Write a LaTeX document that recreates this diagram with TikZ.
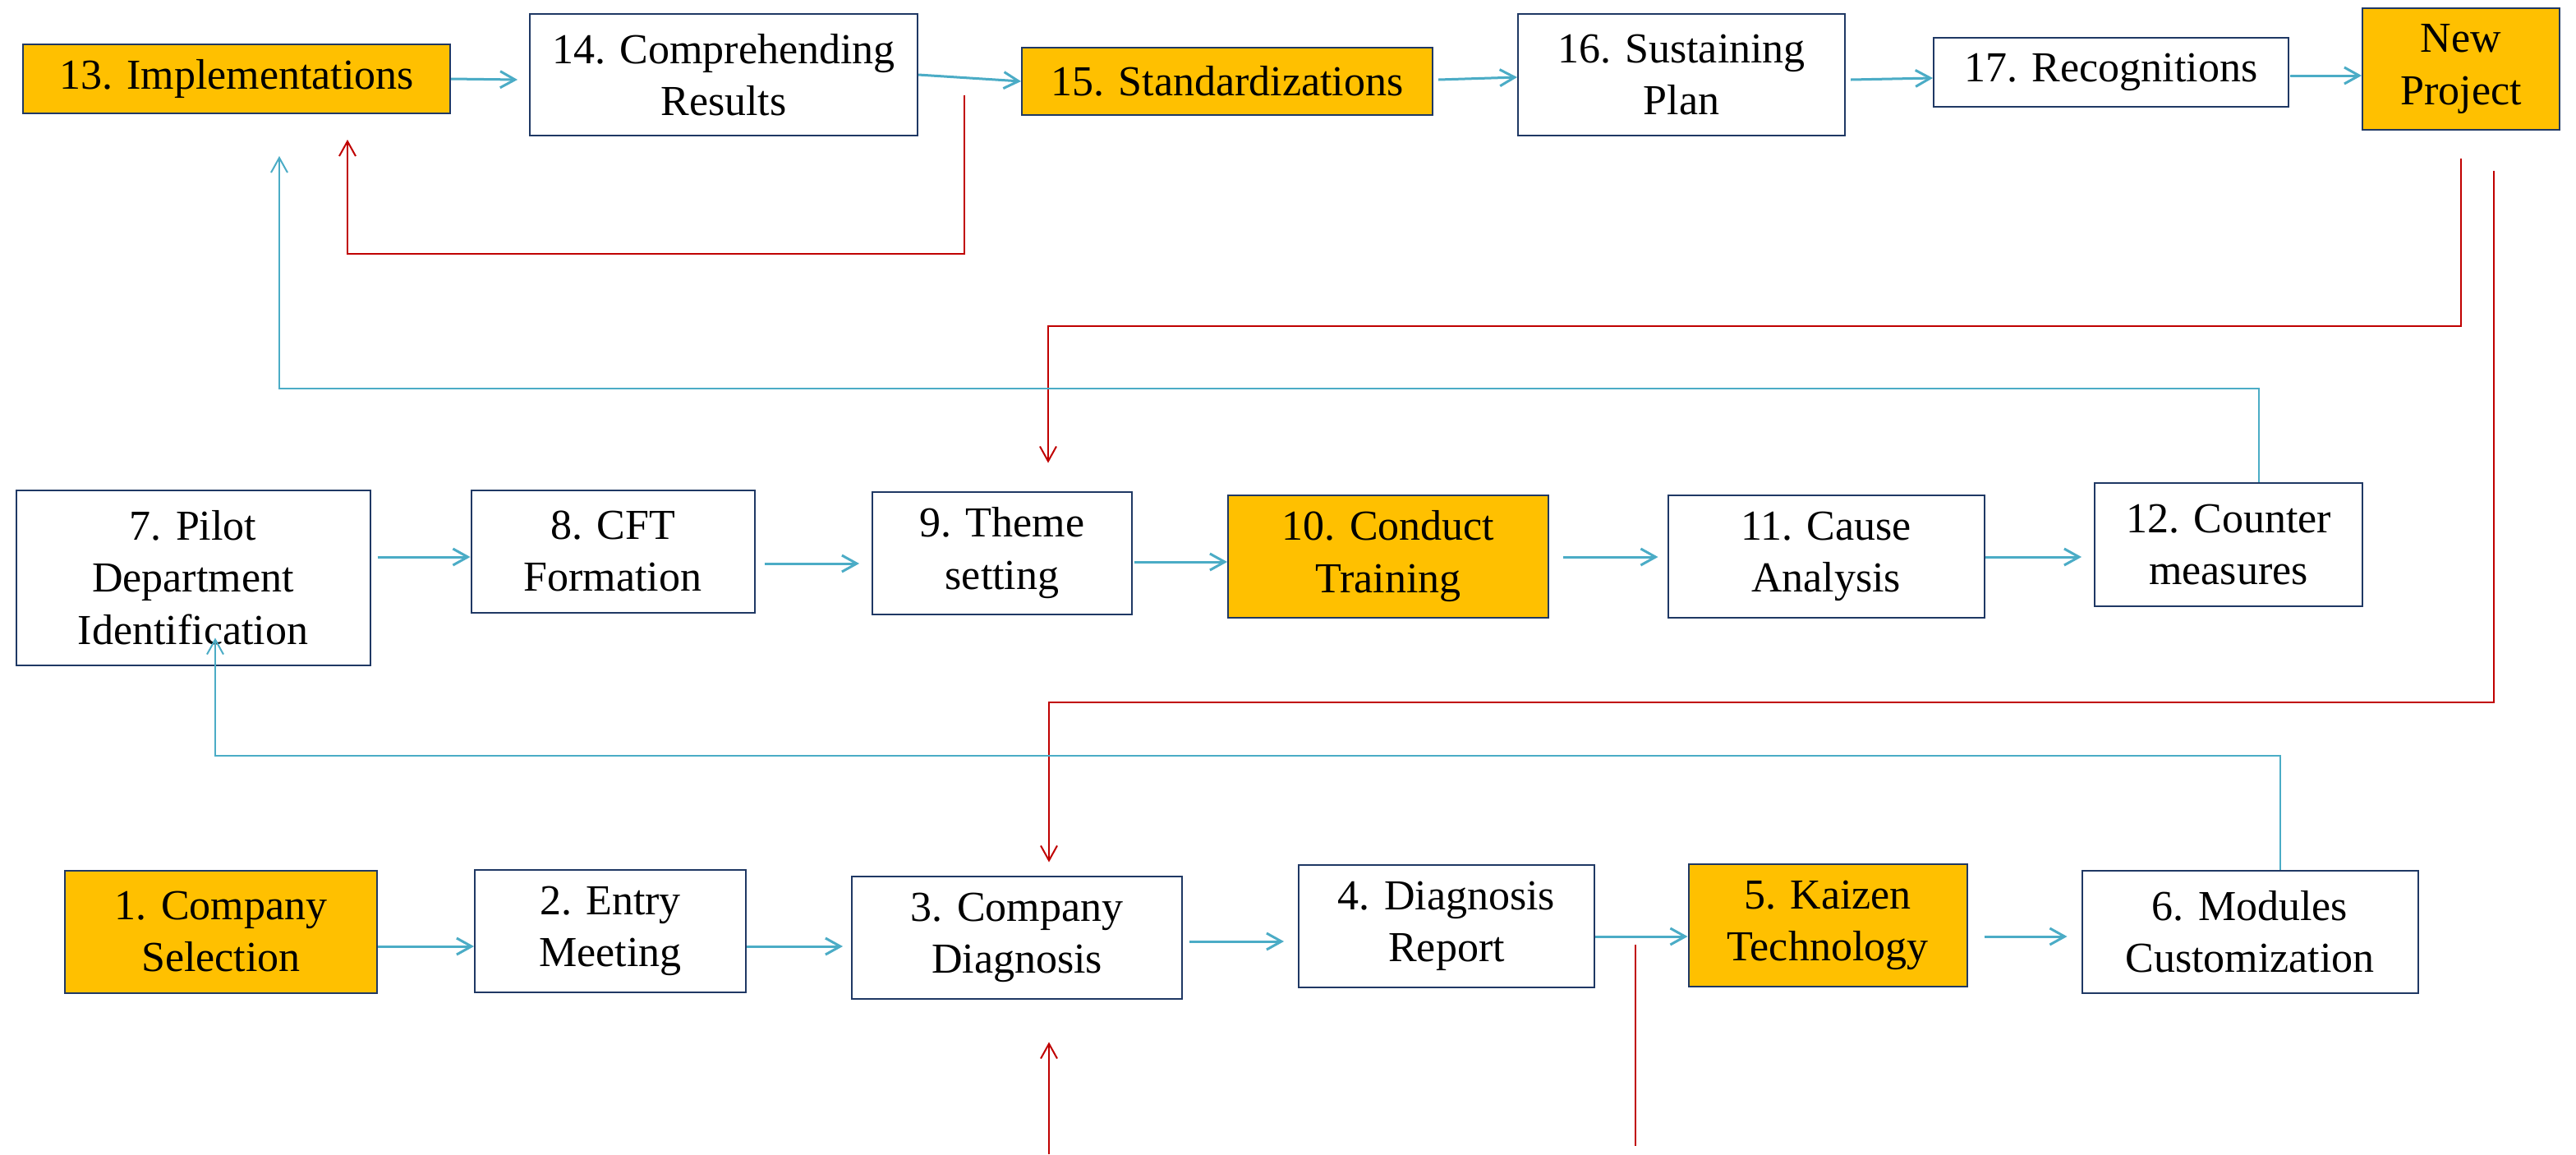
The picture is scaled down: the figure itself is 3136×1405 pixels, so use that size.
\documentclass[tikz,border=0pt]{standalone}
\usepackage{fontspec}
\setmainfont{Liberation Serif}
\usetikzlibrary{arrows.meta,calc}
\definecolor{orng}{RGB}{255,192,0}
\definecolor{navy}{RGB}{31,56,100}
\definecolor{cyanl}{RGB}{75,172,198}
\definecolor{redl}{RGB}{192,0,0}
\begin{document}
\begin{tikzpicture}[x=0.25pt,y={(0,-0.25pt)},
  box/.style={draw=navy, line width=0.5pt, align=center, inner sep=0pt, text=black, font=\fontsize{13}{15.8}\selectfont},
  plainbox/.style={box, fill=white},
  hl/.style={box, preaction={fill=orng}},
  wh/.style 2 args={minimum width=#1*0.25pt, minimum height=#2*0.25pt},
  tip/.style={-{Straight Barb[length=4.5pt,width=5pt]}},
  flow/.style={draw=cyanl, line width=0.75pt, tip},
  fbc/.style={draw=cyanl, line width=0.5pt, tip},
  fbr/.style={draw=redl, line width=0.5pt, tip},
  fbrline/.style={draw=redl, line width=0.5pt}]
\fill[white] (0,0) rectangle (3136,1405);
\useasboundingbox (0,0) rectangle (3136,1405);
% top row
\node[hl, wh={520}{84}]   (n13) at (288,96)   {13. Implementations};
\node[plainbox, wh={472}{148}] (n14) at (881,91)   {14. Comprehending\\Results};
\node[hl, wh={500}{82}]   (n15) at (1494,99)  {15. Standardizations};
\node[plainbox, wh={398}{148}] (n16) at (2047,91)  {16. Sustaining\\Plan};
\node[plainbox, wh={432}{84}]  (n17) at (2570,88)  {17. Recognitions};
\node[hl, wh={240}{148}]  (nNP) at (2996,84)  {New\\Project};
% middle row
\node[plainbox, wh={431}{213}] (n7)  at (235,703)  {7. Pilot\\Department\\Identification};
\node[plainbox, wh={345}{149}] (n8)  at (746,671)  {8. CFT\\Formation};
\node[plainbox, wh={316}{149}] (n9)  at (1220,673) {9. Theme\\setting};
\node[hl, wh={390}{149}]  (n10) at (1690,677) {10. Conduct\\Training};
\node[plainbox, wh={385}{149}] (n11) at (2223,677) {11. Cause\\Analysis};
\node[plainbox, wh={326}{150}] (n12) at (2713,663) {12. Counter\\measures};
% bottom row
\node[hl, wh={380}{149}]  (n1)  at (269,1134)  {1. Company\\Selection};
\node[plainbox, wh={330}{149}] (n2)  at (743,1133)  {2. Entry\\Meeting};
\node[plainbox, wh={402}{149}] (n3)  at (1238,1141) {3. Company\\Diagnosis};
\node[plainbox, wh={360}{149}] (n4)  at (1761,1127) {4. Diagnosis\\Report};
\node[hl, wh={339}{149}]  (n5)  at (2225,1126) {5. Kaizen\\Technology};
\node[plainbox, wh={409}{149}] (n6)  at (2739,1134) {6. Modules\\Customization};
% main flow arrows, top
\draw[flow] (n13.east) -- ($(n14.west)+(-14,6)$);
\draw[flow] (n14.east) -- (n15.west);
\draw[flow] ($(n15.east)+(6,-2)$) -- ($(n16.west)+(0,3)$);
\draw[flow] ($(n16.east)+(6,6)$) -- ($(n17.west)+(0,7)$);
\draw[flow] ($(n17.east)+(1,4)$) -- ($(nNP.west)+(0,8)$);
% middle
\draw[flow] ($(n7.east)+(8,-25)$) -- ($(n8.west)+(0,7)$);
\draw[flow] ($(n8.east)+(11,15)$) -- ($(n9.west)+(-15,13)$);
\draw[flow] ($(n9.east)+(2,11)$) -- ($(n10.west)+(0,7)$);
\draw[flow] ($(n10.east)+(17,1)$) -- ($(n11.west)+(-11,1)$);
\draw[flow] ($(n11.east)+(0,1)$) -- ($(n12.west)+(-15,15)$);
% bottom
\draw[flow] ($(n1.east)+(0,18)$) -- ($(n2.west)+(0,19)$);
\draw[flow] ($(n2.east)+(0,19)$) -- ($(n3.west)+(-10,11)$);
\draw[flow] ($(n3.east)+(8,5)$) -- ($(n4.west)+(-17,19)$);
\draw[flow] ($(n4.east)+(0,13)$) -- ($(n5.west)+(0,14)$);
\draw[flow] ($(n5.east)+(20,14)$) -- ($(n6.west)+(-17,6)$);
% feedback connectors
\coordinate (rA) at ($(n14.south east)+(56,-50)$);
\draw[fbr] (rA) -- ++(0,193) -| ($(n13.south)+(135,31)$);
\draw[fbr] ($(nNP.south)+(0,34)$) -- ++(0,204) -| ($(n9.north)+(56,-34)$);
\draw[fbr] ($(nNP.south east)+(-81,49)$) -- ++(0,647) -| ($(n3.north)+(39,-16)$);
\coordinate (rD) at (1277,1405);
\draw[fbr] (rD) -- ($(n3.south)+(39,52)$);
\draw[fbrline] ($(n4.east)+(49,23)$) -- ++(0,245);
\draw[fbc] ($(n12.north)+(37,0)$) -- ++(0,-114) -| ($(n13.south)+(52,51)$);
\draw[fbc] ($(n6.north)+(37,0)$) -- ++(0,-139) -| ($(n7.south)+(27,-34)$);
\end{tikzpicture}
\end{document}
